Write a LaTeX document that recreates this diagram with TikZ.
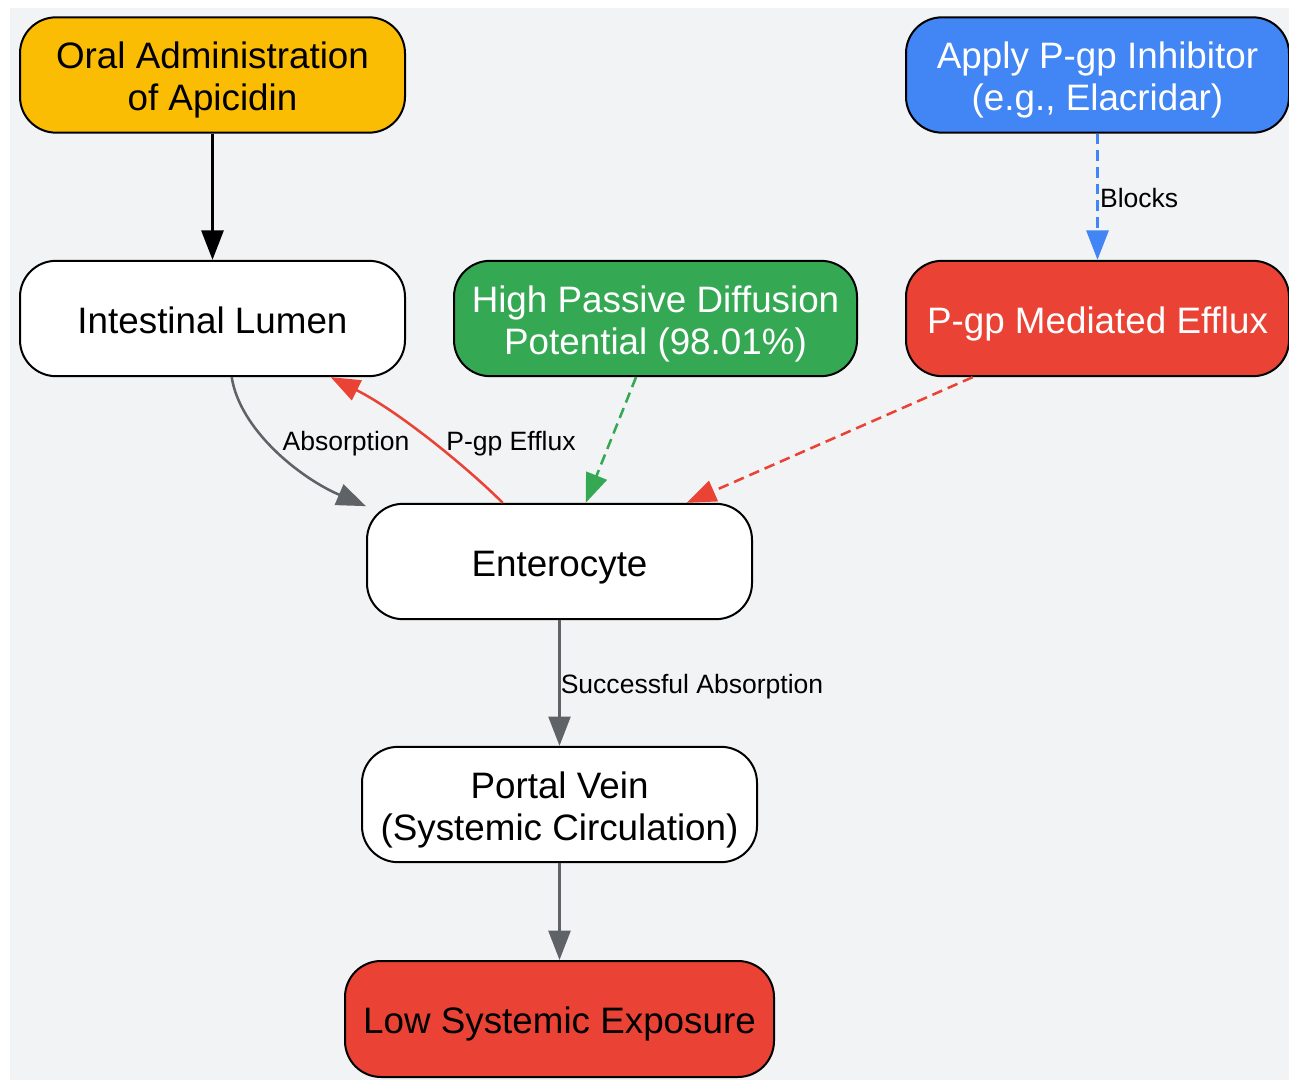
\documentclass[tikz,border=0pt]{standalone}
\usepackage{fontspec}
\setmainfont{Liberation Sans}
\usetikzlibrary{arrows.meta}
\definecolor{bgc}{HTML}{F1F3F4}
\definecolor{gyellow}{HTML}{FBBC04}
\definecolor{gblue}{HTML}{4285F4}
\definecolor{ggreen}{HTML}{34A853}
\definecolor{gred}{HTML}{EA4335}
\definecolor{ggray}{HTML}{5F6368}
\tikzset{
  box/.style={draw=black, line width=1.5pt, rounded corners=27pt, align=center,
    inner sep=0pt, minimum height=86.5pt, text depth=0pt, text height=22.2pt,
    font=\fontsize{27.6}{31.3}\selectfont},
  twoline/.style={text height=53.5pt},
  conn/.style={line width=1.9pt, -{Triangle[length=22pt,width=16.5pt]}},
  dsh/.style={dash pattern=on 8pt off 4.5pt},
  lbl/.style={font=\fontsize{19.9}{22}\selectfont, text=black, inner sep=1pt}
}
\begin{document}
\begin{tikzpicture}[x=0.75pt,y=-0.75pt]
\useasboundingbox (0,0) rectangle (1289,1080);
\fill[bgc] (10,8) rectangle (1289,1080);

\node[box, twoline, fill=gyellow, minimum width=288.75pt] (oral) at (212.5,75) {Oral Administration\\of Apicidin};
\node[box, fill=white, minimum width=288.75pt] (lumen) at (212.5,318.5) {Intestinal Lumen};
\node[box, twoline, fill=ggreen, text=white, minimum width=302.25pt] (passive) at (655.5,318.5) {High Passive Diffusion\\Potential (98.01\%)};
\node[box, fill=gred, text=white, minimum width=287.25pt] (efflux) at (1097.5,318.5) {P-gp Mediated Efflux};
\node[box, twoline, fill=gblue, text=white, minimum width=287.25pt] (inhib) at (1097.5,75) {Apply P-gp Inhibitor\\(e.g., Elacridar)};
\node[box, fill=white, minimum width=288.75pt] (entero) at (559.5,561.5) {Enterocyte};
\node[box, twoline, fill=white, minimum width=296.25pt] (portal) at (559.5,804.5) {Portal Vein\\(Systemic Circulation)};
\node[box, fill=gred, text=black, minimum width=321.75pt, minimum height=87pt] (low) at (559.5,1019) {Low Systemic Exposure};

\draw[conn, draw=black] (oral.south) -- (lumen.north);
\draw[conn, draw=gblue, dsh] (inhib.south) -- node[lbl, midway, anchor=west, yshift=-1pt] (lblocks) {Blocks} (efflux.north);
\draw[conn, draw=ggray] ([xshift=14.4pt]lumen.south) .. controls (240,430) and (300,478) .. ([yshift=-2.5pt]entero.north west);
\draw[conn, draw=gred] ([xshift=-42.6pt]entero.north) .. controls (470,470) and (400,412) .. ([xshift=88.65pt]lumen.south);
\draw[conn, draw=ggreen, dsh] ([xshift=-14.6pt]passive.south) -- ([xshift=19.65pt]entero.north);
\draw[conn, draw=gred, dsh] ([xshift=-93.6pt]efflux.south) -- ([xshift=95.4pt]entero.north);
\draw[conn, draw=ggray] (entero.south) -- node[lbl, midway, anchor=west, inner sep=0pt, yshift=-2.5pt] (lsucc) {Successful Absorption} (portal.north);
\draw[conn, draw=ggray] (portal.south) -- (low.north);

\node[lbl] (labs) at (346,443.5) {Absorption};
\node[lbl] (leff) at (511,443.5) {P-gp Efflux};
\end{tikzpicture}
\end{document}
